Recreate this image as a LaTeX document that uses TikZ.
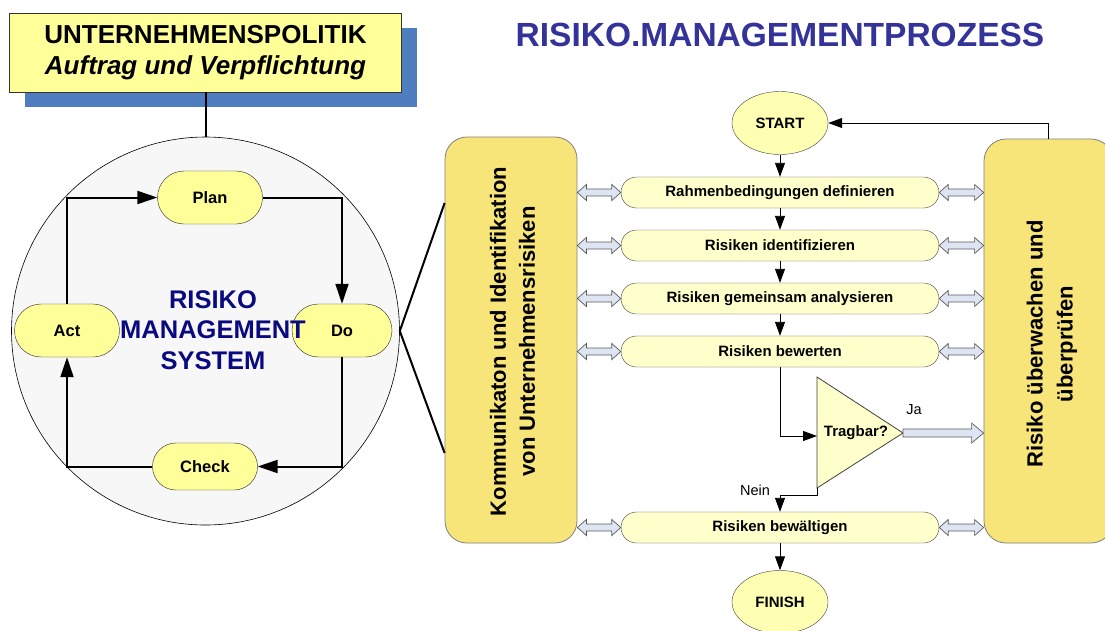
\documentclass[tikz,border=0pt]{standalone}
\usepackage{fontspec}
\setmainfont{Liberation Sans}
\usetikzlibrary{arrows.meta,calc,shapes.misc,shapes.geometric,shadows}

\definecolor{topyellow}{HTML}{FFFF99}
\definecolor{shadowblue}{HTML}{4F7EC0}
\definecolor{circlegray}{HTML}{F7F7F7}
\definecolor{pillyellow}{HTML}{FFFF99}
\definecolor{procyellow}{HTML}{FFFFCC}
\definecolor{ovalyellow}{HTML}{FFFFB3}
\definecolor{boxgold}{HTML}{F8E57A}
\definecolor{arrowfill}{HTML}{DDE5F3}
\definecolor{arrowline}{HTML}{5A5A5A}
\definecolor{navytext}{HTML}{0A0A80}
\definecolor{titleblue}{HTML}{333399}

\newcommand{\sz}[2]{\fontsize{#1}{#2}\selectfont}

\tikzset{
  pdca/.style={rounded rectangle, draw=black!85, fill=pillyellow, minimum width=105pt,
    minimum height=53pt, inner sep=0pt, font=\sz{16.5}{20}\bfseries},
  proc/.style={rounded rectangle, draw=black!75, fill=procyellow, minimum width=318pt,
    minimum height=31pt, inner sep=0pt, font=\sz{15}{18}\bfseries},
  terminal/.style={ellipse, draw=black!75, fill=ovalyellow, minimum width=96pt,
    minimum height=63pt, inner sep=0pt, font=\sz{15}{18}\bfseries},
  bigbox/.style={rectangle, rounded corners=22pt, draw=black!50, fill=boxgold, line width=0.8pt},
  pdcaline/.style={line width=2pt, -{Triangle[length=20pt,width=13pt]}},
  flow/.style={line width=0.9pt, -{Triangle[length=14pt,width=10pt]}},
  dblarrow/.style={draw=arrowline, fill=arrowfill, line width=0.7pt,
    to path={let \p1=(\tikztostart), \p2=(\tikztotarget) in
      (\x1,\y1) -- (\x1+9pt,\y1+8pt) -- (\x1+9pt,\y1+3.5pt) -- (\x2-9pt,\y1+3.5pt)
      -- (\x2-9pt,\y1+8pt) -- (\x2,\y1) -- (\x2-9pt,\y1-8pt) -- (\x2-9pt,\y1-3.5pt)
      -- (\x1+9pt,\y1-3.5pt) -- (\x1+9pt,\y1-8pt) -- cycle}},
  blkarrow/.style={draw=arrowline, fill=arrowfill, line width=0.7pt,
    to path={let \p1=(\tikztostart), \p2=(\tikztotarget) in
      (\x1,\y1+4pt) -- (\x2-12pt,\y1+4pt) -- (\x2-12pt,\y1+10pt) -- (\x2,\y1)
      -- (\x2-12pt,\y1-10pt) -- (\x2-12pt,\y1-4pt) -- (\x1,\y1-4pt) -- cycle}},
}

\begin{document}
\begin{tikzpicture}[x=1pt,y=-1pt]

\useasboundingbox (0,0) rectangle (1105,630);

\node[draw=black!80, fill=topyellow, minimum width=392pt, minimum height=79pt, line width=0.8pt,
  align=center, font=\sz{26}{31}\bfseries,
  drop shadow={shadow xshift=15pt, shadow yshift=-15pt, fill=shadowblue, opacity=1}]
  (politik) at (205.5,52.5) {UNTERNEHMENSPOLITIK\\\itshape Auftrag und Verpflichtung};

\node[font=\sz{33.5}{40}\bfseries, text=titleblue] (title) at (780,35) {RISIKO.MANAGEMENTPROZESS};

\node[circle, minimum size=388pt, inner sep=0pt, draw, fill=circlegray, line width=0.6pt] (circ) at (205.5,331) {};
\draw[line width=2pt] (politik.south) -- (circ.north);

\node[pdca] (plan) at (210,197.5) {Plan};
\node[pdca, minimum width=100pt] (do) at (342,330.5) {Do};
\node[pdca] (act) at (67,330.5) {Act};
\node[pdca, minimum height=47pt] (check) at (205,466.5) {Check};

\draw[pdcaline] (act.north) |- (plan.west);
\draw[pdcaline] (plan.east) -| (do.north);
\draw[pdcaline] (do.south) |- (check.east);
\draw[pdcaline] (check.west) -| (act.south);

\node[font=\sz{25.5}{30.7}\bfseries, text=navytext, align=center] (rms) at (213,330) {RISIKO\\MANAGEMENT\\SYSTEM};

\node[bigbox, minimum width=132pt, minimum height=406pt] (kom) at (511,340) {};
\node[rotate=90, align=center, font=\sz{22}{29}\bfseries] (komtext) at (512.5,341.5)
  {Kommunikaton und Identifikation\\von Unternehmensrisiken};

\draw[line width=2pt] ([yshift=137pt]kom.west) -- (circ.east) -- ([yshift=-113pt]kom.west);

\node[bigbox, minimum width=129pt, minimum height=404pt] (ueber) at (1048.5,341) {};
\node[rotate=90, align=center, font=\sz{22}{30}\bfseries] (uebertext) at (1052,344)
  {Risiko überwachen und\\überprüfen};

\node[terminal] (start) at (780,123) {START};
\node[proc] (r1) at (780,192.5) {Rahmenbedingungen definieren};
\node[proc] (r2) at (780,245.5) {Risiken identifizieren};
\node[proc] (r3) at (780,298.5) {Risiken gemeinsam analysieren};
\node[proc] (r4) at (780,351.5) {Risiken bewerten};
\node[proc] (r5) at (780,527.5) {Risiken bewältigen};
\node[terminal] (finish) at (780,602) {FINISH};

\coordinate (tritop) at (817,377);
\coordinate (tapex) at (903,433);
\coordinate (tribot) at (817,488);
\coordinate (tin) at (817,436);
\draw[draw=black!75, fill=procyellow, line width=0.8pt] (tritop) -- (tapex) -- (tribot) -- cycle;
\node[font=\sz{15}{18}\bfseries] (tragbar) at (856,433) {Tragbar?};

\draw[flow] (start.south) -- (r1.north);
\draw[flow] (r1.south) -- (r2.north);
\draw[flow] (r2.south) -- (r3.north);
\draw[flow] (r3.south) -- (r4.north);
\draw[flow] (r4.south) |- (tin);
\draw[flow] (tribot) -- ++(0,7) -| (r5.north);
\draw[flow] (r5.south) -- (finish.north);
\draw[flow] (ueber.north) |- (start.east);

\node[font=\sz{14.5}{17}] (nein) at (755,490) {Nein};
\node[font=\sz{14.5}{17}] (ja) at (914,410) {Ja};

\draw[blkarrow] (tapex) to (ueber.west |- tapex);

\foreach \r in {r1,r2,r3,r4,r5} {
  \draw[dblarrow] (kom.east |- \r.west) to (\r.west);
  \draw[dblarrow] (\r.east) to (ueber.west |- \r.east);
}

\end{tikzpicture}
\end{document}
